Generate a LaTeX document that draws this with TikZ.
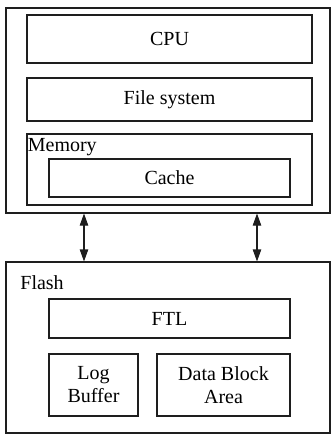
\documentclass[tikz,border=0pt]{standalone}
\usepackage{fontspec}
\setmainfont{Liberation Serif}
\usetikzlibrary{arrows.meta,positioning,calc}
\definecolor{cLine}{RGB}{30,30,30}
\tikzset{
  basebox/.style={rectangle,draw=cLine,line width=0.55pt,inner sep=0pt,
                  align=center,font=\fontsize{10}{11.5}\selectfont},
  outerbox/.style={basebox,minimum width=162pt},
  widebox/.style={basebox,minimum width=142.5pt},
  innerbox/.style={basebox,minimum width=120.5pt},
  lbl/.style={inner sep=0.5pt,font=\fontsize{10}{11.5}\selectfont},
  dblarr/.style={{Triangle[length=6pt,width=4.2pt]}-{Triangle[length=6pt,width=4.2pt]},
                 line width=0.55pt,color=cLine}
}
\begin{document}
\begin{tikzpicture}[x=0.5pt,y=-0.5pt]
  \useasboundingbox[fill=white] (0,0) rectangle (332,434);
  % host side
  \node[outerbox,minimum height=102.5pt] (host) at (168,110.5) {};
  \node[widebox,minimum height=24pt] (cpu) at (169.5,39) {CPU};
  \node[widebox,minimum height=21.5pt] (fs) at (169.5,99.5) {File system};
  \node[widebox,minimum height=35.5pt] (mem) at (169.5,169.5) {};
  \node[lbl,anchor=north west,yshift=-2pt] (memlbl) at (mem.north west) {Memory};
  \node[innerbox,minimum height=19pt] (cache) at (169.5,178) {Cache};

  % flash side
  \node[outerbox,minimum height=85.5pt] (flash) at (168,347.5) {};
  \node[lbl,anchor=west] (flashlbl) at (19,283) {Flash};
  \node[innerbox,minimum height=19.5pt] (ftl) at (169.5,318.5) {FTL};
  \node[basebox,minimum width=44.5pt,minimum height=31pt] (logbuf) at (93.5,385)
      {Log\\Buffer};
  \node[basebox,minimum width=66.5pt,minimum height=31pt] (datablk) at (223.5,385)
      {Data Block\\Area};

  \coordinate (busL) at (84,0);
  \coordinate (busR) at (257,0);
  \foreach \bus in {busL,busR}
    \draw[dblarr] (\bus |- host.south) -- (\bus |- flash.north);
\end{tikzpicture}
\end{document}
